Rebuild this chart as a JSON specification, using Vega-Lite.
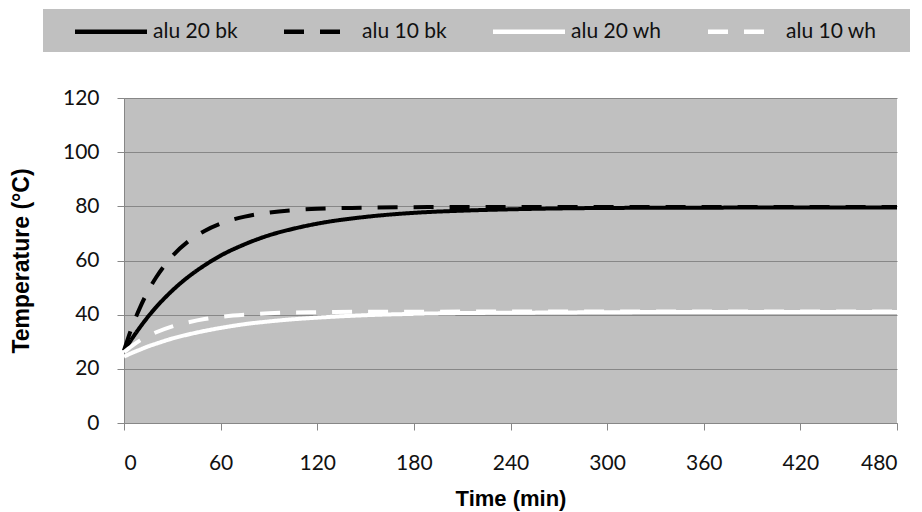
{
  "$schema": "https://vega.github.io/schema/vega-lite/v6.json",
  "width": 773,
  "height": 325,
  "autosize": {"type": "none"},
  "padding": {"left": 124, "top": 98, "right": 25, "bottom": 89},
  "background": "white",
  "config": {
    "view": {"fill": "#c0c0c0", "stroke": null},
    "axis": {
      "labelFont": "Lato", "labelFontSize": 21, "labelColor": "#111",
      "titleFont": "Liberation Sans", "titleFontSize": 22, "titleFontWeight": "bold", "titleColor": "#000",
      "domainColor": "#878787", "tickColor": "#878787", "gridColor": "#878787", "tickSize": 7
    }
  },
  "datasets": {
    "temps": [
      {"t": 0, "series": "alu 20 bk", "temp": 26.6},
      {"t": 5, "series": "alu 20 bk", "temp": 31.2},
      {"t": 10, "series": "alu 20 bk", "temp": 35.4},
      {"t": 15, "series": "alu 20 bk", "temp": 39.3},
      {"t": 20, "series": "alu 20 bk", "temp": 42.8},
      {"t": 30, "series": "alu 20 bk", "temp": 48.9},
      {"t": 40, "series": "alu 20 bk", "temp": 54.0},
      {"t": 50, "series": "alu 20 bk", "temp": 58.2},
      {"t": 60, "series": "alu 20 bk", "temp": 61.8},
      {"t": 75, "series": "alu 20 bk", "temp": 66.0},
      {"t": 90, "series": "alu 20 bk", "temp": 69.3},
      {"t": 105, "series": "alu 20 bk", "temp": 71.7},
      {"t": 120, "series": "alu 20 bk", "temp": 73.6},
      {"t": 150, "series": "alu 20 bk", "temp": 76.1},
      {"t": 180, "series": "alu 20 bk", "temp": 77.6},
      {"t": 210, "series": "alu 20 bk", "temp": 78.4},
      {"t": 240, "series": "alu 20 bk", "temp": 78.9},
      {"t": 300, "series": "alu 20 bk", "temp": 79.4},
      {"t": 360, "series": "alu 20 bk", "temp": 79.5},
      {"t": 420, "series": "alu 20 bk", "temp": 79.6},
      {"t": 480, "series": "alu 20 bk", "temp": 79.6},

      {"t": 0, "series": "alu 10 bk", "temp": 26.8},
      {"t": 5, "series": "alu 10 bk", "temp": 35.5},
      {"t": 10, "series": "alu 10 bk", "temp": 42.7},
      {"t": 15, "series": "alu 10 bk", "temp": 48.8},
      {"t": 20, "series": "alu 10 bk", "temp": 53.8},
      {"t": 30, "series": "alu 10 bk", "temp": 61.6},
      {"t": 40, "series": "alu 10 bk", "temp": 67.1},
      {"t": 50, "series": "alu 10 bk", "temp": 70.9},
      {"t": 60, "series": "alu 10 bk", "temp": 73.6},
      {"t": 75, "series": "alu 10 bk", "temp": 76.2},
      {"t": 90, "series": "alu 10 bk", "temp": 77.7},
      {"t": 105, "series": "alu 10 bk", "temp": 78.6},
      {"t": 120, "series": "alu 10 bk", "temp": 79.1},
      {"t": 150, "series": "alu 10 bk", "temp": 79.5},
      {"t": 180, "series": "alu 10 bk", "temp": 79.7},
      {"t": 240, "series": "alu 10 bk", "temp": 79.8},
      {"t": 300, "series": "alu 10 bk", "temp": 79.8},
      {"t": 360, "series": "alu 10 bk", "temp": 79.8},
      {"t": 420, "series": "alu 10 bk", "temp": 79.8},
      {"t": 480, "series": "alu 10 bk", "temp": 79.8},

      {"t": 0, "series": "alu 20 wh", "temp": 24.5},
      {"t": 5, "series": "alu 20 wh", "temp": 25.9},
      {"t": 10, "series": "alu 20 wh", "temp": 27.1},
      {"t": 15, "series": "alu 20 wh", "temp": 28.3},
      {"t": 20, "series": "alu 20 wh", "temp": 29.3},
      {"t": 30, "series": "alu 20 wh", "temp": 31.2},
      {"t": 40, "series": "alu 20 wh", "temp": 32.7},
      {"t": 50, "series": "alu 20 wh", "temp": 34.0},
      {"t": 60, "series": "alu 20 wh", "temp": 35.1},
      {"t": 75, "series": "alu 20 wh", "temp": 36.5},
      {"t": 90, "series": "alu 20 wh", "temp": 37.5},
      {"t": 105, "series": "alu 20 wh", "temp": 38.3},
      {"t": 120, "series": "alu 20 wh", "temp": 38.9},
      {"t": 150, "series": "alu 20 wh", "temp": 39.8},
      {"t": 180, "series": "alu 20 wh", "temp": 40.3},
      {"t": 210, "series": "alu 20 wh", "temp": 40.6},
      {"t": 240, "series": "alu 20 wh", "temp": 40.7},
      {"t": 300, "series": "alu 20 wh", "temp": 40.9},
      {"t": 360, "series": "alu 20 wh", "temp": 41.0},
      {"t": 420, "series": "alu 20 wh", "temp": 41.0},
      {"t": 480, "series": "alu 20 wh", "temp": 41.0},

      {"t": 0, "series": "alu 10 wh", "temp": 26.2},
      {"t": 5, "series": "alu 10 wh", "temp": 28.5},
      {"t": 10, "series": "alu 10 wh", "temp": 30.5},
      {"t": 15, "series": "alu 10 wh", "temp": 32.1},
      {"t": 20, "series": "alu 10 wh", "temp": 33.5},
      {"t": 30, "series": "alu 10 wh", "temp": 35.7},
      {"t": 40, "series": "alu 10 wh", "temp": 37.2},
      {"t": 50, "series": "alu 10 wh", "temp": 38.4},
      {"t": 60, "series": "alu 10 wh", "temp": 39.2},
      {"t": 75, "series": "alu 10 wh", "temp": 40.0},
      {"t": 90, "series": "alu 10 wh", "temp": 40.5},
      {"t": 105, "series": "alu 10 wh", "temp": 40.8},
      {"t": 120, "series": "alu 10 wh", "temp": 40.9},
      {"t": 150, "series": "alu 10 wh", "temp": 41.1},
      {"t": 180, "series": "alu 10 wh", "temp": 41.1},
      {"t": 240, "series": "alu 10 wh", "temp": 41.2},
      {"t": 300, "series": "alu 10 wh", "temp": 41.2},
      {"t": 360, "series": "alu 10 wh", "temp": 41.2},
      {"t": 420, "series": "alu 10 wh", "temp": 41.2},
      {"t": 480, "series": "alu 10 wh", "temp": 41.2}
    ]
  },
  "data": {"name": "temps"},
  "mark": {"type": "line", "strokeWidth": 4, "interpolate": "monotone"},
  "encoding": {
    "x": {
      "field": "t", "type": "quantitative", "title": "Time (min)",
      "scale": {"domain": [0, 480], "nice": false},
      "axis": {"values": [0, 60, 120, 180, 240, 300, 360, 420, 480], "grid": false, "labelPadding": 22, "titlePadding": 15}
    },
    "y": {
      "field": "temp", "type": "quantitative", "title": "Temperature (°C)",
      "scale": {"domain": [0, 120], "nice": false},
      "axis": {"values": [0, 20, 40, 60, 80, 100, 120], "grid": true, "labelPadding": 18, "titlePadding": 29, "titleFontSize": 23}
    },
    "color": {
      "field": "series", "type": "nominal", "sort": ["alu 20 bk", "alu 10 bk", "alu 20 wh", "alu 10 wh"],
      "scale": {"domain": ["alu 20 bk", "alu 10 bk", "alu 20 wh", "alu 10 wh"], "range": ["#000000", "#000000", "#ffffff", "#ffffff"]},
      "legend": {
        "title": " ", "titleOrient": "right", "titlePadding": 24, "titleFontSize": 10,
        "orient": "none", "legendX": -81, "legendY": -89,
        "direction": "horizontal", "columns": 4, "fillColor": "#c0c0c0", "padding": 10,
        "symbolType": "M-1.25,0H5.95", "symbolSize": 400, "symbolStrokeWidth": 4.5, "symbolOffset": 22,
        "labelFont": "Lato", "labelFontSize": 21, "labelColor": "#111", "labelOffset": 53,
        "columnPadding": 24, "labelLimit": 300
      }
    },
    "strokeDash": {
      "field": "series", "type": "nominal", "sort": ["alu 20 bk", "alu 10 bk", "alu 20 wh", "alu 10 wh"],
      "scale": {"domain": ["alu 20 bk", "alu 10 bk", "alu 20 wh", "alu 10 wh"], "range": [[1, 0], [20, 16], [1, 0], [20, 16]]},
      "legend": {
        "title": " ", "titleOrient": "right", "titlePadding": 24, "titleFontSize": 10,
        "orient": "none", "legendX": -81, "legendY": -89,
        "direction": "horizontal", "columns": 4, "fillColor": "#c0c0c0", "padding": 10,
        "symbolType": "M-1.25,0H5.95", "symbolSize": 400, "symbolStrokeWidth": 4.5, "symbolOffset": 22,
        "labelFont": "Lato", "labelFontSize": 21, "labelColor": "#111", "labelOffset": 53,
        "columnPadding": 24, "labelLimit": 300
      }
    }
  }
}
